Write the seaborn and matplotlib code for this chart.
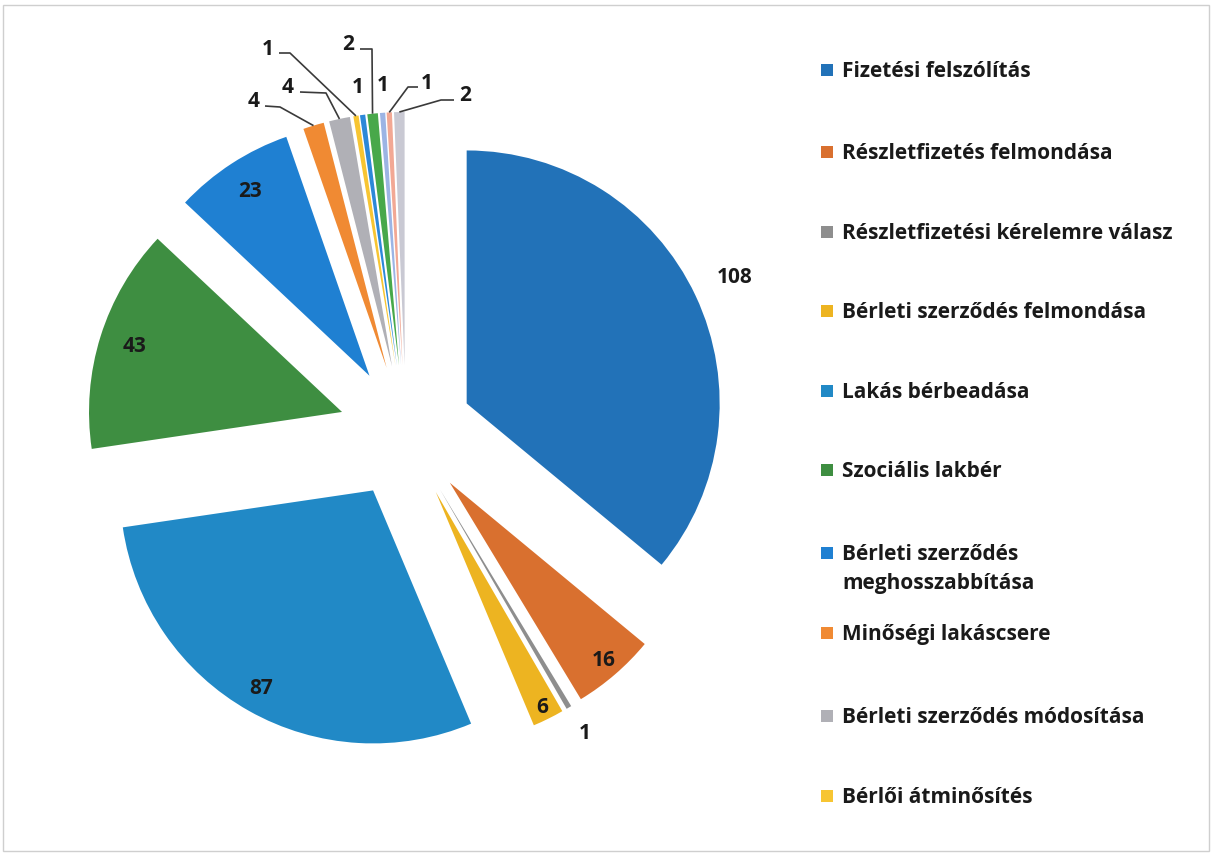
import numpy as np
import matplotlib
matplotlib.use("Agg")
import matplotlib.pyplot as plt
import seaborn as sns
from matplotlib.patches import Rectangle

# ---------------- data ----------------
values = [108, 16, 1, 6, 87, 43, 23, 4, 4, 1, 1, 2, 1, 1, 2]
legend_labels = [
    "Fizetési felszólítás",
    "Részletfizetés felmondása",
    "Részletfizetési kérelemre válasz",
    "Bérleti szerződés felmondása",
    "Lakás bérbeadása",
    "Szociális lakbér",
    "Bérleti szerződés\nmeghosszabbítása",
    "Minőségi lakáscsere",
    "Bérleti szerződés módosítása",
    "Bérlői átminősítés",
]

# ---------------- style ----------------
colors = ["#2272B8", "#D9702F", "#8E8E8E", "#EDB421", "#2189C6", "#3E8E41",
          "#1F80D2", "#F08A33", "#B0B0B6", "#F7C532", "#2C88D8", "#48A84A",
          "#9CB4E4", "#F2A894", "#C9C9D3"]

sns.set_theme(style="white")
plt.rcParams['font.family'] = ['Open Sans', 'DejaVu Sans']
TXT = "#1a1a1a"
FS = 15

W, H = 1213, 855
fig = plt.figure(figsize=(W / 100, H / 100), dpi=100)
ax = fig.add_axes([0, 0, 1, 1])
CX, CY, R = 406, 432, 253


def P(x, y):
    """pixel (from top-left) -> data coords"""
    return ((x - CX) / R, (CY - y) / R)


wedges, _ = ax.pie(values, colors=colors, startangle=90, counterclock=False,
                   explode=[0.265] * len(values), radius=1,
                   wedgeprops=dict(linewidth=0))
ax.set_xlim(-CX / R, (W - CX) / R)
ax.set_ylim((CY - H) / R, CY / R)
ax.set_aspect('equal', adjustable='box')
ax.axis('off')

# ---------------- data labels ----------------
label_radius = {0: 1.17, 1: 0.93, 2: 1.12, 3: 0.95, 4: 0.90, 5: 0.86, 6: 0.87}
small_layout = {
    7: dict(text=(254, 102), path=[(265, 106), (280, 107)]),
    8: dict(text=(288, 88), path=[(300, 92), (326, 93)]),
    9: dict(text=(268, 50), path=[(279, 53), (290, 53)]),
    10: dict(text=(358, 88), path=None),
    11: dict(text=(348, 45), path=[(360, 49), (372, 49)]),
    12: dict(text=(383, 86), path=None),
    13: dict(text=(427, 84), path=[(418, 87), (408, 87)]),
    14: dict(text=(465, 96), path=[(454, 100), (441, 100)]),
}

for i, w in enumerate(wedges):
    mid = np.deg2rad((w.theta1 + w.theta2) / 2)
    cx, cy = w.center
    d = np.array([np.cos(mid), np.sin(mid)])
    if i in label_radius:
        pos = np.array([cx, cy]) + label_radius[i] * w.r * d
        ax.text(pos[0], pos[1], str(values[i]), ha='center', va='center',
                fontsize=FS, fontweight='bold', color=TXT)
    else:
        lay = small_layout[i]
        tx, ty = P(*lay['text'])
        ax.text(tx, ty, str(values[i]), ha='center', va='center',
                fontsize=FS, fontweight='bold', color=TXT)
        if lay['path'] is not None:
            anchor = np.array([cx, cy]) + w.r * d
            pts = [P(*p) for p in lay['path']] + [tuple(anchor)]
            xs, ys = zip(*pts)
            ax.plot(xs, ys, color="#3a3a3a", lw=1.2, solid_capstyle='butt')

# ---------------- legend ----------------
leg_y = [70, 152, 232, 311, 391, 470, 553, 633, 716, 796]
for i, (lab, y) in enumerate(zip(legend_labels, leg_y)):
    fig.patches.append(Rectangle((821 / W, 1 - (y + 6) / H), 12 / W, 12 / H,
                                 transform=fig.transFigure,
                                 facecolor=wedges[i].get_facecolor(),
                                 edgecolor='none'))
    fig.text(842 / W, 1 - (y - 9) / H, lab, ha='left', va='top',
             fontsize=FS, fontweight='bold', color=TXT, linespacing=1.5)

# light frame of the original chart area
fig.patches.append(Rectangle((3 / W, 4 / H), (W - 7) / W, (H - 9) / H,
                             transform=fig.transFigure, facecolor='none',
                             edgecolor='#cfcfcf', lw=1.0))

fig.savefig("out.png", dpi=100)
